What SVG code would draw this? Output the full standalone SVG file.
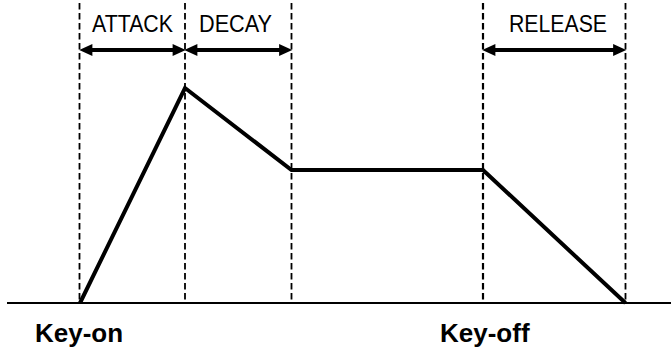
<svg xmlns="http://www.w3.org/2000/svg" width="671" height="348" viewBox="0 0 671 348">
<style>
.guide{stroke:#000;stroke-width:1.8;stroke-dasharray:6.5,3.5;fill:none}
.span{stroke:#000;stroke-width:4;fill:none}
.env{stroke:#000;stroke-width:4;fill:none;stroke-linejoin:miter}
.axis{stroke:#000;stroke-width:2}
.phase{font-family:"Liberation Sans",Arial,sans-serif;font-size:24px;fill:#000}
.key{font-family:"Liberation Sans",Arial,sans-serif;font-size:26px;font-weight:bold;fill:#000}
</style>
<defs>
<marker id="ah" markerUnits="userSpaceOnUse" markerWidth="14" markerHeight="12" viewBox="0 0 12 11" refX="4" refY="5.5" orient="auto-start-reverse">
<path d="M0,0 L12,5.5 L0,11 z" fill="#000"/>
</marker>
</defs>
<rect width="671" height="348" fill="#fff"/>
<g id="axis">
<line class="axis" x1="7" y1="303" x2="671" y2="303"/>
</g>
<g id="guides">
<line class="guide" x1="79.5" y1="3" x2="79.5" y2="303"/>
<line class="guide" x1="185" y1="3" x2="185" y2="303"/>
<line class="guide" x1="291.5" y1="3" x2="291.5" y2="303"/>
<line class="guide" x1="483" y1="3" x2="483" y2="303" style="stroke-width:2.2"/>
<line class="guide" x1="625.5" y1="3" x2="625.5" y2="303"/>
</g>
<g id="envelope">
<polyline class="env" points="80,303 185,88 291.5,170 483,170 625.5,303"/>
</g>
<g id="connectors">
<line class="span" x1="88" y1="50" x2="177" y2="50" marker-start="url(#ah)" marker-end="url(#ah)"/>
<line class="span" x1="193" y1="50" x2="283.5" y2="50" marker-start="url(#ah)" marker-end="url(#ah)"/>
<line class="span" x1="491" y1="50" x2="617.5" y2="50" marker-start="url(#ah)" marker-end="url(#ah)"/>
</g>
<g id="attack"><text class="phase" x="92" y="32" textLength="81" lengthAdjust="spacingAndGlyphs">ATTACK</text></g>
<g id="decay"><text class="phase" x="199" y="32" textLength="73" lengthAdjust="spacingAndGlyphs">DECAY</text></g>
<g id="release"><text class="phase" x="509" y="32" textLength="98" lengthAdjust="spacingAndGlyphs">RELEASE</text></g>
<g id="key-on"><text class="key" x="35" y="342">Key-on</text></g>
<g id="key-off"><text class="key" x="440" y="342">Key-off</text></g>
</svg>
